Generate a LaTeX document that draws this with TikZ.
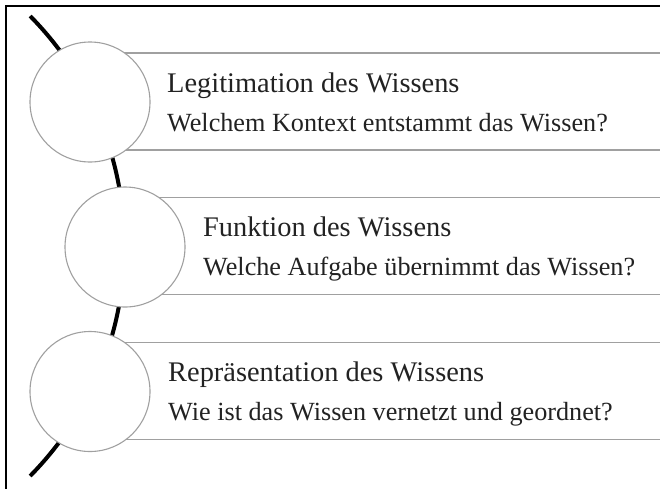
\documentclass[tikz,border=0pt]{standalone}
\usepackage{fontspec}
\setmainfont{Liberation Serif}
\usepackage{xcolor}
\usepackage{tikz}
\usetikzlibrary{positioning}
\definecolor{ringgray}{HTML}{A0A0A0}
\definecolor{textgray}{HTML}{222222}

\begin{document}
\begin{tikzpicture}[x=1pt, y=-1pt,
    ring/.style={circle, draw=ringgray, line width=1.1pt, fill=white, minimum size=120pt, inner sep=0pt},
    band/.style={rectangle, draw=ringgray, line width=1.2pt, anchor=west, minimum width=620pt, minimum height=97pt, inner sep=0pt},
    heading/.style={anchor=base west, inner sep=0pt, text=textgray, font=\fontsize{28.4}{30}\selectfont},
    question/.style={anchor=base west, inner sep=0pt, text=textgray, font=\fontsize{26.2}{28}\selectfont}
]
\useasboundingbox (0,0) rectangle (660,488);
\clip (0,0) rectangle (660,488);
% frame
\draw[line width=1.2pt] (6,700) -- (6,6) -- (700,6);

% arc behind the circles
\coordinate (hub) at (-203,246);
\coordinate (arctop) at ([shift={(44.6:327.5)}]hub);
\draw[line width=4pt] (arctop) arc[start angle=44.6, end angle=-44.6, radius=327.5];

% bands
\node[band] (b1) at (90,101.5) {};
\node[band] (b2) at (125,246) {};
\node[band] (b3) at (90,391) {};

% circles
\node[ring] (c1) at (90,102) {};
\node[ring] (c2) at (125,247) {};
\node[ring] (c3) at (90,391.5) {};

% texts
\node[heading] (t1) at (167,92) {Legitimation des Wissens};
\node[question] (q1) at (167,131) {Welchem Kontext entstammt das Wissen?};
\node[heading] (t2) at (203,236) {Funktion des Wissens};
\node[question] (q2) at (203,275) {Welche Aufgabe übernimmt das Wissen?};
\node[heading] (t3) at (168,381) {Repräsentation des Wissens};
\node[question] (q3) at (168,420) {Wie ist das Wissen vernetzt und geordnet?};

\end{tikzpicture}
\end{document}
